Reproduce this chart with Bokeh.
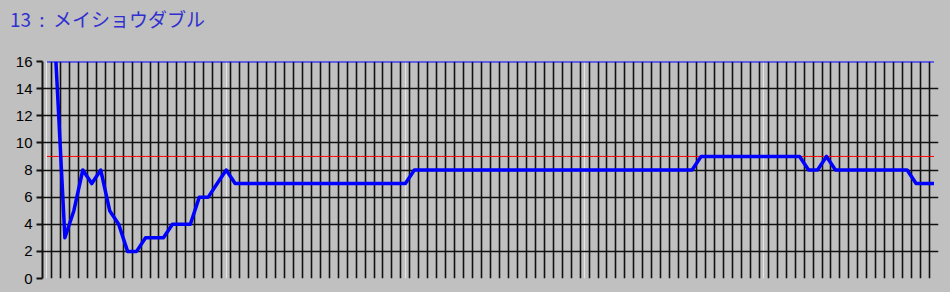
from bokeh.plotting import figure
from bokeh.models import Range1d, FixedTicker, Grid, Div
from bokeh.layouts import column
from bokeh.embed import file_html
from bokeh.resources import INLINE

# ---- data ----
title_text = "13 : メイショウダブル"
n_slots = 100
y_ticks = [0, 2, 4, 6, 8, 10, 12, 14, 16]
# popularity rank of horse 13 over time (first slot has no value)
rank_first_slot = 1
rank = [16, 3, 5, 8, 7, 8, 5, 4, 2, 2,
        3, 3, 3, 4, 4, 4, 6, 6, 7, 8] + [7] * 20 + [8] * 32 + [9] * 12 + \
       [8, 8, 9] + [8] * 9 + [7] * 3
field_size = [16] * n_slots
reference = [9] * n_slots

slots = list(range(n_slots))
rank_x = [rank_first_slot + i for i in range(len(rank))]
boundaries = [i - 0.5 for i in range(n_slots + 1)]

BG = "#C0C0C0"
TITLE_H = 51

header = Div(
    text=('<div style="padding:9px 0 0 10px;color:#3030D0;'
          "font-family:'Noto Sans CJK JP';font-size:19px;line-height:20px;"
          'word-spacing:4px;white-space:nowrap;">' + title_text + '</div>'),
    width=950, height=TITLE_H, margin=0,
    styles={"background-color": BG})

p = figure(width=950, height=292 - TITLE_H, output_backend="svg",
           toolbar_location=None,
           x_range=Range1d(-0.5, n_slots - 0.5), y_range=Range1d(0, 16),
           x_axis_location=None,
           min_border_left=42, min_border_right=12, min_border_top=10,
           min_border_bottom=14, margin=0,
           background_fill_color=BG, border_fill_color=BG,
           outline_line_color=None)

ax = p.yaxis[0]
ax.ticker = FixedTicker(ticks=y_ticks)
ax.major_label_text_font = "Liberation Sans"
ax.major_label_text_font_size = "15px"
ax.major_label_text_color = "black"
ax.major_label_standoff = 4
ax.major_tick_out = 6
ax.major_tick_in = 0
ax.major_tick_line_width = 2
ax.major_tick_line_color = "#111111"
ax.minor_tick_line_color = None
ax.axis_line_width = 2
ax.axis_line_color = "#111111"

p.ygrid.ticker = FixedTicker(ticks=y_ticks)
p.ygrid.grid_line_color = "#111111"
p.ygrid.grid_line_width = 1.6

vgrid = Grid(dimension=0, ticker=FixedTicker(ticks=boundaries),
             grid_line_color="#111111", grid_line_width=1.6)
p.add_layout(vgrid)

p.line(x=slots, y=field_size, line_color="#0000FF", line_width=2)
p.line(x=slots, y=reference, line_color="#FF0000", line_width=1)
p.line(x=rank_x, y=rank, line_color="#0000FF", line_width=3.5,
       line_join="round")

layout = column(header, p, spacing=0, margin=0,
                styles={"background-color": BG})

open("out.html", "w").write(file_html(layout, INLINE))
